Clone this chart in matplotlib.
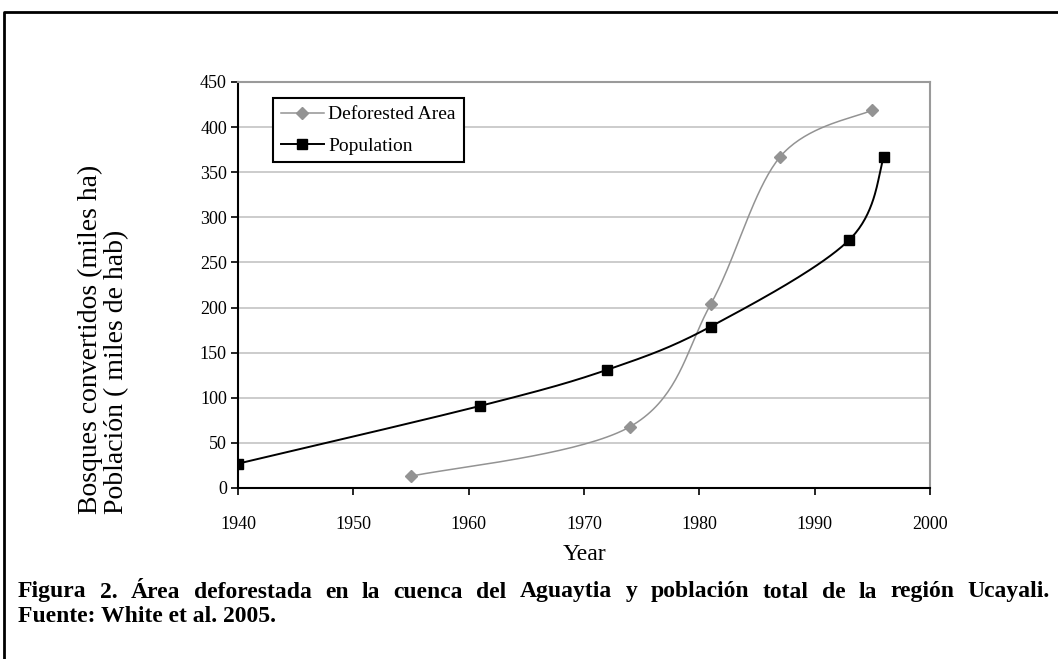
import numpy as np
import matplotlib
matplotlib.use("Agg")
import matplotlib.pyplot as plt
from matplotlib.lines import Line2D

# ---- data ----
defor_years = [1955, 1974, 1981, 1987, 1995]
defor_vals = [13, 68, 204, 367, 419]
pop_years = [1940, 1961, 1972, 1981, 1993, 1996]
pop_vals = [27, 91, 131, 179, 275, 367]
x_ticks = [1940, 1950, 1960, 1970, 1980, 1990, 2000]
y_ticks = [0, 50, 100, 150, 200, 250, 300, 350, 400, 450]

ylabel_text = "Bosques convertidos (miles ha)\nPoblación ( miles de hab)"
xlabel_text = "Year"
caption1 = "Figura 2. Área deforestada en la cuenca del Aguaytia y población total de la región Ucayali."
caption2 = "Fuente: White et al. 2005."

plt.rcParams['font.family'] = ['Liberation Serif', 'DejaVu Serif']


def smooth(xs, ys, n=40):
    """Excel-like smoothed line (uniform Catmull-Rom through the points)."""
    P = np.column_stack([xs, ys]).astype(float)
    P = np.vstack([P[0], P, P[-1]])
    out = []
    for i in range(1, len(P) - 2):
        p0, p1, p2, p3 = P[i - 1], P[i], P[i + 1], P[i + 2]
        c1 = p1 + (p2 - p0) / 6.0
        c2 = p2 - (p3 - p1) / 6.0
        t = np.linspace(0, 1, n)[:, None]
        seg = ((1 - t) ** 3) * p1 + 3 * ((1 - t) ** 2) * t * c1 + 3 * (1 - t) * t ** 2 * c2 + t ** 3 * p2
        out.append(seg if i == 1 else seg[1:])
    out = np.vstack(out)
    return out[:, 0], out[:, 1]


W, H = 1058, 659
fig = plt.figure(figsize=(W / 100, H / 100), dpi=100)
ax = fig.add_axes([238 / W, 1 - 488 / H, (930 - 238) / W, (488 - 82) / H])

gray = '#939393'
sx, sy = smooth(defor_years, defor_vals)
ax.plot(sx, sy, color=gray, lw=1.1, zorder=3)
ax.plot(defor_years, defor_vals, ls='none', marker='D', ms=6.5, color=gray, mec=gray, zorder=4)
px, py = smooth(pop_years, pop_vals)
ax.plot(px, py, color='black', lw=1.4, zorder=3)
ax.plot(pop_years, pop_vals, ls='none', marker='s', ms=7, color='black', zorder=4)

ax.set_xlim(1940, 2000)
ax.set_ylim(0, 450)
ax.set_xticks(x_ticks)
ax.set_yticks(y_ticks)
ax.set_xticklabels([str(v) for v in x_ticks])
ax.set_yticklabels([str(v) for v in y_ticks])
ax.tick_params(axis='both', direction='out', length=5, width=1.2, labelsize=13, colors='black')
ax.tick_params(axis='x', pad=15)
ax.tick_params(axis='y', pad=3)
ax.yaxis.grid(True, color='#c8c8c8', lw=1.3)
ax.set_axisbelow(True)
for s in ['top', 'right']:
    ax.spines[s].set_color('#9a9a9a')
    ax.spines[s].set_linewidth(1.5)
for s in ['left', 'bottom']:
    ax.spines[s].set_color('black')
    ax.spines[s].set_linewidth(1.5)

ax.set_xlabel(xlabel_text, fontsize=17, labelpad=8)

# y label (two left-aligned rotated lines)
fig.text(78 / W, 1 - 514 / H, ylabel_text, rotation=90, fontsize=20,
         ha='left', va='bottom', multialignment='left', linespacing=1.05)

handles = [Line2D([], [], color=gray, lw=1.1, marker='D', ms=6.5, mec=gray),
           Line2D([], [], color='black', lw=1.4, marker='s', ms=7)]
leg = ax.legend(handles, ['Deforested Area', 'Population'], loc='upper left',
                bbox_to_anchor=(0.0506, 0.9606), borderaxespad=0, fontsize=14,
                handlelength=2.2, handletextpad=0.25, fancybox=False,
                edgecolor='black', framealpha=1, borderpad=0.4, labelspacing=0.7)
leg.get_frame().set_linewidth(1.5)

# outer frame
fig.add_artist(Line2D([4 / W, 4 / W, 1.0], [0, 1 - 12 / H, 1 - 12 / H],
                      transform=fig.transFigure, color='black', lw=2))

# caption line 1 (justified)
fig.canvas.draw()
renderer = fig.canvas.get_renderer()
words = caption1.split(' ')
x0, x1 = 18, 1050
fs = 17
arts = [fig.text(0, 0, w, fontsize=fs, fontweight='bold') for w in words]
widths = [a.get_window_extent(renderer).width for a in arts]
gap = (x1 - x0 - sum(widths)) / (len(words) - 1)
x = x0
yb = 1 - 592 / H
for a, w in zip(arts, widths):
    a.set_position((x / W, yb))
    a.set_va('center')
    x += w + gap
fig.text(x0 / W, 1 - 617 / H, caption2, fontsize=fs, fontweight='bold', va='center')

fig.savefig('out.png', dpi=100)
